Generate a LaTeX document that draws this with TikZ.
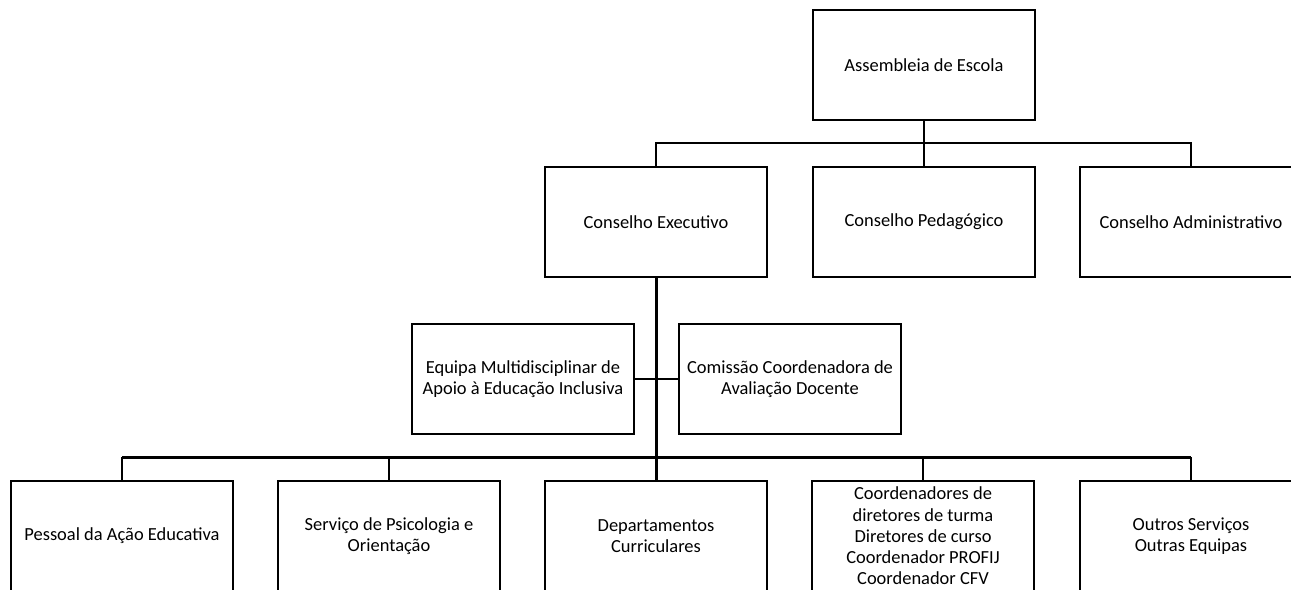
\documentclass[tikz,border=0pt]{standalone}
\usepackage{fontspec}
\setmainfont{Carlito}
\usepackage{tikz}

\begin{document}
\begin{tikzpicture}[x=0.02cm,y=-0.02cm,
  orgbox/.style={draw,line width=1.4pt,fill=white,minimum width=4.44cm,minimum height=2.2cm,
    align=center,inner sep=2pt,font=\fontsize{10.5}{12.1}\selectfont},
  link/.style={line width=1.2pt},
  trunk/.style={line width=1.7pt}]
\useasboundingbox (0,0) rectangle (1291,589);
\clip (0,0) rectangle (1291,589);
% top level
\node[orgbox] (assembleia) at (924,65) {Assembleia de Escola};
\node[orgbox] (executivo) at (656,222) {Conselho Executivo};
\node[orgbox] (pedagogico) at (924,222) {Conselho Pedagógico};
\node[orgbox] (administrativo) at (1191,222) {Conselho Administrativo};
% middle
\node[orgbox] (equipa) at (523,379) {Equipa Multidisciplinar de\\Apoio à Educação Inclusiva};
\node[orgbox] (comissao) at (790,379) {Comissão Coordenadora de\\Avaliação Docente};
% bottom row
\node[orgbox] (pessoal) at (122,536) {Pessoal da Ação Educativa};
\node[orgbox] (psicologia) at (389,536) {Serviço de Psicologia e\\Orientação};
\node[orgbox] (departamentos) at (656,536) {Departamentos\\Curriculares};
\node[orgbox] (coordenadores) at (923,536) {Coordenadores de\\diretores de turma\\Diretores de curso\\Coordenador PROFIJ\\Coordenador CFV};
\node[orgbox] (outros) at (1191,536) {Outros Serviços\\Outras Equipas};
\coordinate (topbus) at (0,143);
\coordinate (lowbus) at (0,457);

\draw[link] (assembleia.south) -- (pedagogico.north);
\draw[link] (executivo.north) -- (executivo.north |- topbus) -- (administrativo.north |- topbus) -- (administrativo.north);
\draw[trunk] (executivo.south) -- (departamentos.north);
\draw[link] (equipa.east) -- (comissao.west);
\draw[trunk] (pessoal.north |- lowbus) -- (outros.north |- lowbus);
\foreach \n in {pessoal,psicologia,coordenadores,outros}
  \draw[link] (\n.north) -- (\n.north |- lowbus);
\end{tikzpicture}
\end{document}
